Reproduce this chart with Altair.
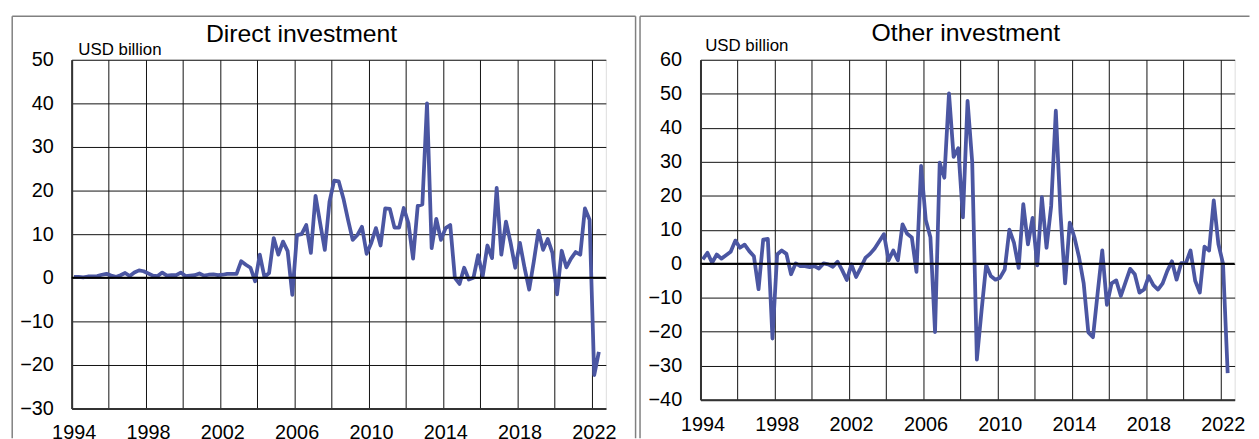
import altair as alt
import pandas as pd

start_year = 1994
direct = [0.2, 0.2, 0.1, 0.3, 0.3, 0.4, 0.7, 0.9, 0.5, 0.2, 0.6, 1.1, 0.4, 1.2, 1.7, 1.5,
          1.0, 0.5, 0.4, 1.2, 0.5, 0.6, 0.6, 1.2, 0.4, 0.5, 0.6, 1.0, 0.5, 0.7, 0.8, 0.6,
          0.7, 0.9, 0.9, 0.9, 3.8, 3.0, 2.3, -0.8, 5.3, 0.15, 1.1, 9.1, 5.3, 8.3, 6.1, -3.9,
          9.8, 10.0, 12.1, 5.7, 18.8, 12.5, 6.4, 17.4, 22.3, 22.1, 18.2, 13.3, 8.7, 9.8, 11.7, 5.5,
          8.0, 11.4, 7.4, 15.9, 15.8, 11.5, 11.5, 16.0, 12.5, 4.4, 16.5, 16.8, 40.0, 6.8, 13.5, 8.7,
          11.4, 12.1, 0.0, -1.4, 2.3, -0.4, 0.0, 5.2, 0.4, 7.4, 4.5, 20.6, 5.3, 12.9, 8.0, 2.3,
          8.0, 2.3, -2.7, 3.8, 10.8, 6.4, 8.9, 5.7, -3.8, 6.2, 2.4, 4.4, 5.9, 5.3, 15.9, 13.3,
          -22.3, -17.0]
other = [1.3, 3.2, 0.3, 2.7, 1.5, 2.5, 3.5, 6.8, 4.7, 5.6, 3.7, 2.2, -7.5, 7.1, 7.3, -22.0,
         2.7, 3.9, 2.9, -3.1, 0.1, -0.7, -0.7, -1.0, -0.7, -1.4, 0.1, -0.2, -0.9, 0.6, -1.9, -4.8,
         -0.2, -3.9, -1.2, 1.7, 2.9, 4.5, 6.6, 8.7, 1.0, 3.9, 1.0, 11.6, 8.8, 7.7, -2.4, 28.8,
         12.9, 7.8, -20.1, 29.7, 25.3, 50.1, 31.4, 34.0, 13.6, 47.9, 29.9, -28.2, -14.0, -0.4, -3.6, -4.7,
         -4.1, -1.7, 10.0, 6.1, -1.2, 17.5, 5.7, 13.5, -0.5, 19.6, 4.7, 17.0, 45.0, 15.0, -5.8, 12.1,
         7.8, 1.9, -5.8, -20.2, -21.6, -8.7, 3.9, -12.1, -5.8, -4.9, -9.5, -5.5, -1.5, -3.1, -8.5, -7.6,
         -3.7, -6.3, -7.6, -5.8, -2.1, 0.7, -4.7, 0.2, 0.2, 3.9, -5.0, -8.5, 5.0, 3.9, 18.6, 5.8,
         0.0, -32.2]
grid_years = list(range(1994, 2023, 2))
direct_ticks = list(range(-30, 51, 10))
other_ticks = list(range(-40, 61, 10))
titles = ["Direct investment", "Other investment"]
unit_label = "USD billion"

t = [start_year + i / 4 + 0.125 for i in range(len(direct))]
FONT = "Liberation Sans"
LINE = "#4b56a2"
FRAME = "#808080"
one = pd.DataFrame({"k": [0]})


def vline(xpos):
    return alt.Chart(one).mark_rule(color=FRAME, strokeWidth=1.5).encode(
        x=alt.value(xpos), y=alt.value(-44), y2=alt.value(382))


def panel(values, ticks, h, title, title_x, title_y, unit_x, unit_y,
          top_from, top_to, vlines, ylabpad, xlabpad):
    df = pd.DataFrame({"t": t, "v": values})
    xs = alt.Scale(domain=[1994, 2022.75], nice=False, zero=False)
    ys = alt.Scale(domain=[ticks[0], ticks[-1]], nice=False, zero=False)
    x_axis = alt.Axis(values=grid_years, format="d",
                      labelExpr="datum.value % 4 == 2 ? datum.label : ''",
                      title=None, grid=True, gridColor="#111", gridWidth=1,
                      ticks=False, tickSize=0, labelPadding=xlabpad, labelOffset=2,
                      labelFontSize=20, labelFont=FONT, labelColor="#000",
                      domainColor="#333", domainWidth=2, labelFlush=False,
                      labelOverlap=False)
    y_axis = alt.Axis(values=ticks, format="d", title=None, grid=True,
                      gridColor="#111", gridWidth=1, ticks=False, tickSize=0,
                      labelPadding=ylabpad, labelFontSize=20, labelFont=FONT,
                      labelColor="#000", domainColor="#333", domainWidth=2,
                      labelFlush=False, labelOverlap=False)
    line = alt.Chart(df).mark_line(color=LINE, strokeWidth=3.8, strokeJoin="round").encode(
        x=alt.X("t:Q", scale=xs, axis=x_axis),
        y=alt.Y("v:Q", scale=ys, axis=y_axis),
    )
    zero = alt.Chart(pd.DataFrame({"v": [0]})).mark_rule(color="#000", strokeWidth=2).encode(
        y=alt.Y("v:Q", scale=ys, axis=y_axis))
    ttl = alt.Chart(one).mark_text(text=title, fontSize=25, font=FONT, color="#000",
                                   align="center", baseline="alphabetic").encode(
        x=alt.value(title_x), y=alt.value(title_y))
    unit = alt.Chart(one).mark_text(text=unit_label, fontSize=17, font=FONT, color="#000",
                                    align="left", baseline="alphabetic").encode(
        x=alt.value(unit_x), y=alt.value(unit_y))
    top = alt.Chart(one).mark_rule(color=FRAME, strokeWidth=1.5).encode(
        x=alt.value(top_from), x2=alt.value(top_to), y=alt.value(-44))
    layers = [line, zero, ttl, unit, top] + [vline(v) for v in vlines]
    return alt.layer(*layers).properties(width=539, height=h)


p1 = panel(direct, direct_ticks, 352, titles[0], 232, -18, 6.7, -4.7,
           -60, 569, [-60, 569], 18.5, 14.5)
p2 = panel(other, other_ticks, 343, titles[1], 267.7, -18.7, 4.7, -8.7,
           -61, 554, [-61], 19, 15)

chart = alt.hconcat(p1, p2, spacing=0.5).properties(
    padding={"left": 2.25, "top": 4.25, "right": 0, "bottom": 0}
).configure_view(stroke="#000", strokeWidth=1).configure(background="white")

chart.save("out.html", embed_options={"renderer": "svg", "actions": False})
